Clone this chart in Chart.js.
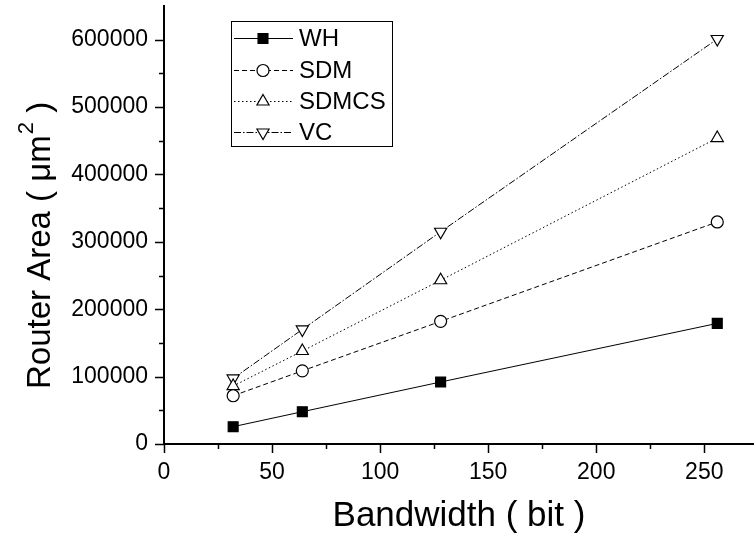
<!DOCTYPE html>
<html>
<head>
<meta charset="utf-8">
<script src="https://cdn.jsdelivr.net/npm/chart.js@4/dist/chart.umd.min.js"></script>
<style>
  html, body { margin: 0; padding: 0; background: #fff; }
  #wrap { width: 754px; height: 537px; position: relative; }
</style>
</head>
<body>
<div id="wrap"><canvas id="chart"></canvas></div>
<script>
// Data
const bandwidth = [32, 64, 128, 256];
const whArea    = [25700, 47900, 92000, 179000];
const sdmArea   = [71600, 108600, 182000, 329500];
const sdmcsArea = [86000, 138000, 243000, 454000];
const vcArea    = [97300, 170000, 315000, 601000];

// Axis ticks
const xMajorTicks = [0, 50, 100, 150, 200, 250];
const xMinorTicks = [25, 75, 125, 175, 225];
const yMajorTicks = [0, 100000, 200000, 300000, 400000, 500000, 600000];
const yMinorTicks = [50000, 150000, 250000, 350000, 450000, 550000];

const FONT = '"Liberation Sans", Arial, sans-serif';

function toPoints(ys) {
  return bandwidth.map((x, i) => ({ x: x, y: ys[i] }));
}

// Outward major / minor tick marks like the original Origin plot
const tickMarks = {
  id: 'tickMarks',
  afterDraw(chart) {
    const { ctx, scales: { x, y }, chartArea } = chart;
    ctx.save();
    ctx.strokeStyle = '#000';
    ctx.lineWidth = 1.5;
    ctx.beginPath();
    xMajorTicks.forEach(v => {
      const px = Math.round(x.getPixelForValue(v)) + 0.5;
      ctx.moveTo(px, chartArea.bottom);
      ctx.lineTo(px, chartArea.bottom + 9);
    });
    xMinorTicks.forEach(v => {
      const px = Math.round(x.getPixelForValue(v)) + 0.5;
      ctx.moveTo(px, chartArea.bottom);
      ctx.lineTo(px, chartArea.bottom + 5);
    });
    yMajorTicks.forEach(v => {
      const py = Math.round(y.getPixelForValue(v)) + 0.5;
      ctx.moveTo(chartArea.left, py);
      ctx.lineTo(chartArea.left - 9, py);
    });
    yMinorTicks.forEach(v => {
      const py = Math.round(y.getPixelForValue(v)) + 0.5;
      ctx.moveTo(chartArea.left, py);
      ctx.lineTo(chartArea.left - 5, py);
    });
    ctx.stroke();
    ctx.restore();
  }
};

// Y axis title with a real superscript 2
const yTitle = {
  id: 'yTitle',
  afterDraw(chart) {
    const ctx = chart.ctx;
    ctx.save();
    ctx.translate(41, 389);
    ctx.rotate(-Math.PI / 2);
    ctx.fillStyle = '#000';
    ctx.textAlign = 'left';
    ctx.textBaseline = 'middle';
    ctx.font = '33px ' + FONT;
    const main = 'Router Area ( \u03bcm';
    ctx.fillText(main, 0, 0);
    let w = ctx.measureText(main).width;
    ctx.font = '22px ' + FONT;
    ctx.fillText('2', w + 1, -14);
    w += ctx.measureText('2').width + 1;
    ctx.font = '33px ' + FONT;
    ctx.fillText(' )', w, 0);
    ctx.restore();
  }
};

// Boxed legend with line sample + marker
const boxLegend = {
  id: 'boxLegend',
  afterDraw(chart) {
    const ctx = chart.ctx;
    const box = { left: 231, top: 21, right: 392, bottom: 146 };
    const rows = [38, 70, 101, 132];
    ctx.save();
    ctx.fillStyle = '#fff';
    ctx.fillRect(box.left, box.top, box.right - box.left, box.bottom - box.top);
    ctx.strokeStyle = '#000';
    ctx.lineWidth = 1;
    ctx.strokeRect(box.left + 0.5, box.top + 0.5, box.right - box.left, box.bottom - box.top);
    chart.data.datasets.forEach((ds, i) => {
      const yy = rows[i] + 0.5;
      ctx.save();
      ctx.strokeStyle = ds.borderColor;
      ctx.lineWidth = ds.borderWidth;
      ctx.setLineDash(ds.borderDash || []);
      ctx.beginPath();
      ctx.moveTo(234, yy);
      ctx.lineTo(293, yy);
      ctx.stroke();
      ctx.restore();
      ctx.save();
      ctx.fillStyle = ds.pointBackgroundColor;
      ctx.strokeStyle = ds.pointBorderColor;
      ctx.lineWidth = ds.pointBorderWidth;
      Chart.helpers.drawPoint(ctx, {
        pointStyle: ds.pointStyle,
        radius: ds.pointRadius,
        rotation: ds.pointRotation || 0,
        borderWidth: ds.pointBorderWidth
      }, 263, yy);
      ctx.restore();
      ctx.fillStyle = '#000';
      ctx.font = '24px ' + FONT;
      ctx.textAlign = 'left';
      ctx.textBaseline = 'middle';
      ctx.fillText(ds.label, 299, rows[i] + 1);
    });
    ctx.restore();
  }
};

function series(label, ys, dash, style, fill, radius, rotation) {
  return {
    label: label,
    data: toPoints(ys),
    borderColor: '#000',
    borderWidth: 1,
    borderDash: dash,
    pointStyle: style,
    pointRadius: radius,
    pointHoverRadius: radius,
    pointRotation: rotation,
    pointBackgroundColor: fill,
    pointBorderColor: '#000',
    pointBorderWidth: 1.2,
    fill: false,
    tension: 0,
  };
}

new Chart(document.getElementById('chart'), {
  type: 'line',
  data: {
    datasets: [
      series('WH', whArea, [], 'rect', '#000', 7, 0),
      series('SDM', sdmArea, [5, 3], 'circle', '#fff', 6, 0),
      series('SDMCS', sdmcsArea, [1.5, 2.5], 'triangle', '#fff', 7, 0),
      series('VC', vcArea, [7, 2, 1.5, 2], 'triangle', '#fff', 7, 180),
    ]
  },
  options: {
    responsive: true,
    maintainAspectRatio: false,
    animation: false,
    layout: { autoPadding: false, padding: { top: 6, right: 0, left: 0, bottom: 0 } },
    plugins: {
      legend: { display: false },
      tooltip: { enabled: false },
    },
    scales: {
      x: {
        type: 'linear',
        min: 0,
        max: 273,
        afterBuildTicks: (s) => { s.ticks = xMajorTicks.map(v => ({ value: v })); },
        afterFit: (s) => { s.height = 93; s.paddingLeft = 0; s.paddingRight = 0; },
        grid: { display: false },
        border: { display: true, color: '#000', width: 2 },
        ticks: {
          autoSkip: false,
          padding: 7,
          color: '#000',
          font: { family: FONT, size: 23 },
          maxRotation: 0,
          callback: (v) => String(v),
        },
        title: {
          display: true,
          text: 'Bandwidth ( bit )',
          color: '#000',
          font: { family: FONT, size: 35, lineHeight: 1.2 },
          padding: { top: 0, bottom: 0 },
        },
      },
      y: {
        type: 'linear',
        min: 0,
        max: 650000,
        afterBuildTicks: (s) => { s.ticks = yMajorTicks.map(v => ({ value: v })); },
        afterFit: (s) => { s.width = 164; s.paddingTop = 0; s.paddingBottom = 0; },
        grid: { display: false },
        border: { display: true, color: '#000', width: 2 },
        ticks: {
          autoSkip: false,
          padding: 8,
          color: '#000',
          font: { family: FONT, size: 23 },
          callback: (v) => String(v),
        },
      },
    },
  },
  plugins: [tickMarks, yTitle, boxLegend],
});
</script>
</body>
</html>
